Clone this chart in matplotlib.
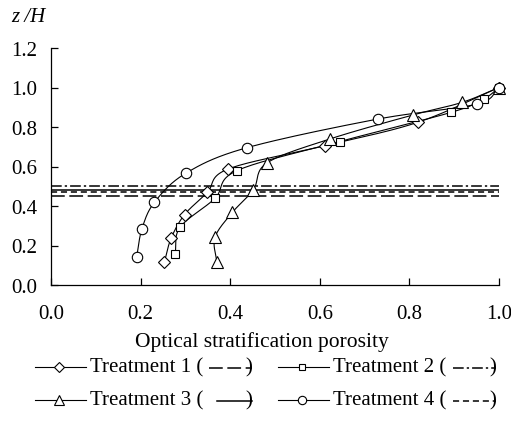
import numpy as np
import matplotlib
matplotlib.use("Agg")
import matplotlib.pyplot as plt
from matplotlib.lines import Line2D

plt.rcParams['font.family'] = ['Liberation Serif', 'DejaVu Serif']
plt.rcParams['mathtext.fontset'] = 'stix'

# ---- data ----
t1_x = [0.253, 0.268, 0.298, 0.349, 0.395, 0.611, 0.819, 1.0]
t1_y = [0.115, 0.236, 0.356, 0.469, 0.587, 0.705, 0.824, 1.0]
t2_x = [0.277, 0.288, 0.366, 0.415, 0.644, 0.893, 0.966, 1.0]
t2_y = [0.155, 0.292, 0.439, 0.579, 0.726, 0.874, 0.942, 1.0]
t3_x = [0.370, 0.366, 0.405, 0.452, 0.482, 0.622, 0.808, 0.918, 1.0]
t3_y = [0.115, 0.241, 0.368, 0.483, 0.618, 0.739, 0.861, 0.925, 1.0]
t4_x = [0.191, 0.203, 0.231, 0.301, 0.437, 0.729, 0.950, 1.0]
t4_y = [0.140, 0.284, 0.419, 0.566, 0.695, 0.840, 0.916, 1.0]
hline_levels = [0.452, 0.503, 0.483, 0.469]   # treatments 1..4
labels = ["Treatment 1", "Treatment 2", "Treatment 3", "Treatment 4"]
x_ticks = [0.0, 0.2, 0.4, 0.6, 0.8, 1.0]
y_ticks = [0.0, 0.2, 0.4, 0.6, 0.8, 1.0, 1.2]

markers = ['D', 's', '^', 'o']
msizes = [6.0, 5.5, 8.5, 7.5]
leg_ms = [5.0, 4.5, 7.0, 6.0]
hstyles = [(0, (9, 3)), (0, (7, 2, 1.5, 2)), '-', (0, (4, 2.5))]

def smooth(x, y, n=20):
    p = np.column_stack([x, y]).astype(float)
    P = np.vstack([2 * p[0] - p[1], p, 2 * p[-1] - p[-2]])
    out = []
    for i in range(1, len(P) - 2):
        p0, p1, p2, p3 = P[i - 1], P[i], P[i + 1], P[i + 2]
        t = np.linspace(0, 1, n, endpoint=False)[:, None]
        seg = 0.5 * ((2 * p1) + (-p0 + p2) * t + (2 * p0 - 5 * p1 + 4 * p2 - p3) * t ** 2
                     + (-p0 + 3 * p1 - 3 * p2 + p3) * t ** 3)
        out.append(seg)
    out.append(p[-1][None, :])
    s = np.vstack(out)
    return s[:, 0], s[:, 1]

fig = plt.figure(figsize=(5.11, 4.27), dpi=100)
ax = fig.add_axes([51 / 511, 1 - 286 / 427, 448 / 511, 237 / 427])

series = [(t1_x, t1_y), (t2_x, t2_y), (t3_x, t3_y), (t4_x, t4_y)]
for (xs, ys), m, ms in zip(series, markers, msizes):
    sx, sy = smooth(xs, ys)
    ax.plot(sx, sy, color='black', lw=0.8, zorder=2, clip_on=False)
    ax.plot(xs, ys, ls='none', marker=m, ms=ms, mfc='white', mec='black', mew=0.8,
            zorder=3, clip_on=False)

for lev, st in zip(hline_levels, hstyles):
    ax.plot([0, 1.0], [lev, lev], color='black', lw=1.1, ls=st, zorder=1)

ax.set_xlim(0, 1.0)
ax.set_ylim(0, 1.2)
ax.set_xticks(x_ticks)
ax.set_yticks(y_ticks)
ax.set_xticklabels([f"{v:.1f}" for v in x_ticks])
ax.set_yticklabels([f"{v:.1f}" for v in y_ticks])
for s in ['top', 'right']:
    ax.spines[s].set_visible(False)
for s in ['left', 'bottom']:
    ax.spines[s].set_linewidth(0.9)
ax.tick_params(direction='in', length=5, width=0.9, labelsize=15, pad=10)
ax.tick_params(axis='x', pad=14)

fig.text(11 / 511, 1 - 18 / 427, "z /H", fontsize=15, style='italic', va='center', ha='left')
fig.text(262 / 511, 1 - 342 / 427, "Optical stratification porosity",
         fontsize=15.5, ha='center', va='center')

# ---- legend (manual) ----
def fx(px):
    return px / 511
def fy(py):
    return 1 - py / 427

entries = [
    (35, 368, 0, 209, 252),
    (278, 368, 1, 453, 496),
    (35, 401, 2, 217, 252),
    (278, 401, 3, 453, 496),
]
for x0, yy, i, s0, s1 in entries:
    fig.add_artist(Line2D([fx(x0), fx(x0 + 51)], [fy(yy), fy(yy)], color='black', lw=0.8))
    fig.add_artist(Line2D([fx(x0 + 24)], [fy(yy)], marker=markers[i], ms=leg_ms[i],
                          mfc='white', mec='black', mew=0.8, ls='none'))
    fig.text(fx(x0 + 55), fy(yy), labels[i] + " (", fontsize=15, va='center', ha='left')
    fig.add_artist(Line2D([fx(s0), fx(s1)], [fy(yy + 1), fy(yy + 1)], color='black', lw=1.1,
                          ls=hstyles[i]))
    fig.text(fx(s1 - 7), fy(yy), ")", fontsize=15, va='center', ha='left')

fig.savefig("out.png", dpi=100)
